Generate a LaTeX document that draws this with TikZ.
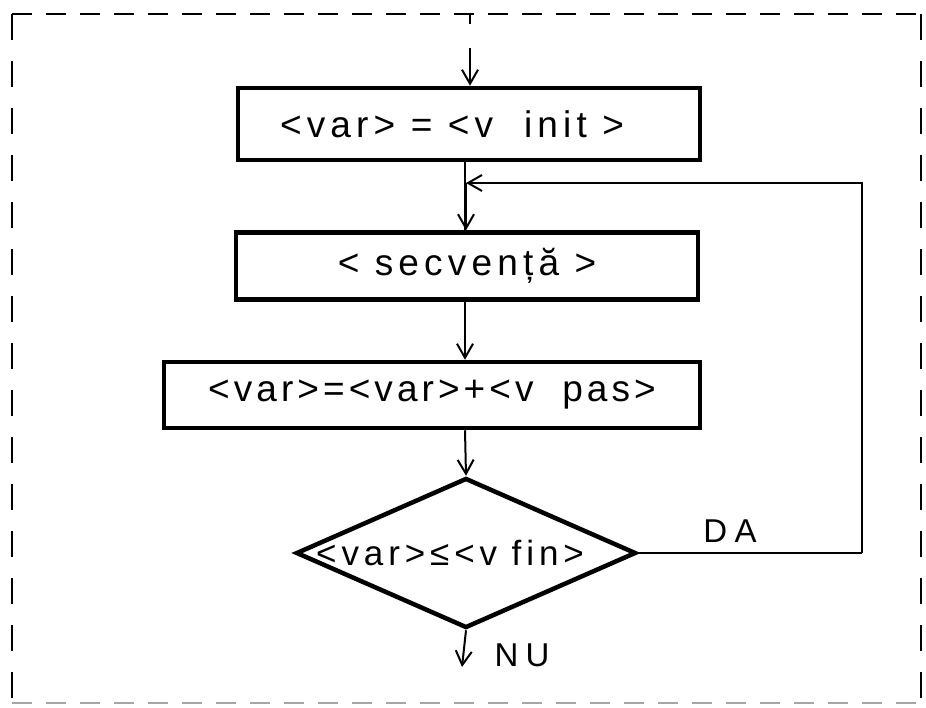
\documentclass[tikz,border=0pt]{standalone}
\usepackage{fontspec}
\setmainfont{Liberation Sans}
\newfontfamily\wide[LetterSpace=14]{Liberation Sans}
\newfontfamily\narrowsp[LetterSpace=11]{Liberation Sans}
\newfontfamily\wider[LetterSpace=14]{Liberation Sans}
\newfontfamily\lblfont[LetterSpace=22]{Liberation Sans}
\usetikzlibrary{shapes.geometric,arrows.meta}
\begin{document}
\begin{tikzpicture}[x=1pt,y=-1pt,
  box/.style={draw,line width=4.5pt,inner sep=0pt,font=\wide\fontsize{37}{37}\selectfont},
  boxn/.style={box,font=\narrowsp\fontsize{37}{37}\selectfont},
  dia/.style={draw,diamond,line width=4.5pt,inner sep=0pt,aspect=2.27,font=\wider\fontsize{35}{35}\selectfont},
  conn/.style={line width=2pt,-{Straight Barb[length=14pt,width=16pt,line width=2pt]}},
  plain/.style={line width=1.6pt},
  frametop/.style={line width=2.6pt,dash pattern=on 20pt off 14pt},
  frameside/.style={line width=2.6pt,dash pattern=on 26pt off 21pt},
  lbl/.style={font=\lblfont\fontsize{33}{33}\selectfont,inner sep=0pt}]
\useasboundingbox (0,0) rectangle (926,707);
% frame
\draw[frametop] (12,14) -- (921,14);
\draw[frameside] (12,14) -- (12,704);
\draw[frameside] (921,14) -- (921,704);
\draw[line width=1.5pt,gray!70,dash pattern=on 20pt off 14pt] (12,703) -- (921,703);
\draw[line width=1.6pt] (470,14) -- (470,24);
% nodes
\node[box,minimum width=462pt,minimum height=72pt] (b1) at (469,124) {<var> = <v\ \ init >\hspace*{34pt}};
\node[box,minimum width=462pt,minimum height=67pt] (b2) at (467,266) {< secvență >};
\node[boxn,minimum width=536pt,minimum height=66pt] (b3) at (432,395) {<var>=<var>+<v\ \ pas>};
\node[dia,minimum width=340pt,minimum height=150pt] (d) at (466,553) {\makebox[0pt]{<var>≤<v fin>\hspace*{32pt}}};
\node[lbl] (da) at (730,531) {DA};
\node[lbl] (nu) at (522,655) {NU};
% coordinates
\coordinate (ax) at (465,0);
\coordinate (start) at (470,48);
\coordinate (merge) at (466,183);
\coordinate (corner) at (862,553);
\coordinate (exit) at (462,667);
% connectors
\draw[conn] (start) -- (b1.north -| start);
\draw[plain] (b1.south -| ax) -- (b2.north -| ax);
\draw[conn] (corner) |- (merge);
\draw[plain] (d.east) -- (corner);
\draw[conn] (merge) -- (b2.north -| merge);
\draw[conn] (b2.south -| ax) -- (b3.north -| ax);
\draw[conn] (b3.south -| ax) -- (d.north);
\draw[conn] (d.south) -- (exit);
\end{tikzpicture}
\end{document}
